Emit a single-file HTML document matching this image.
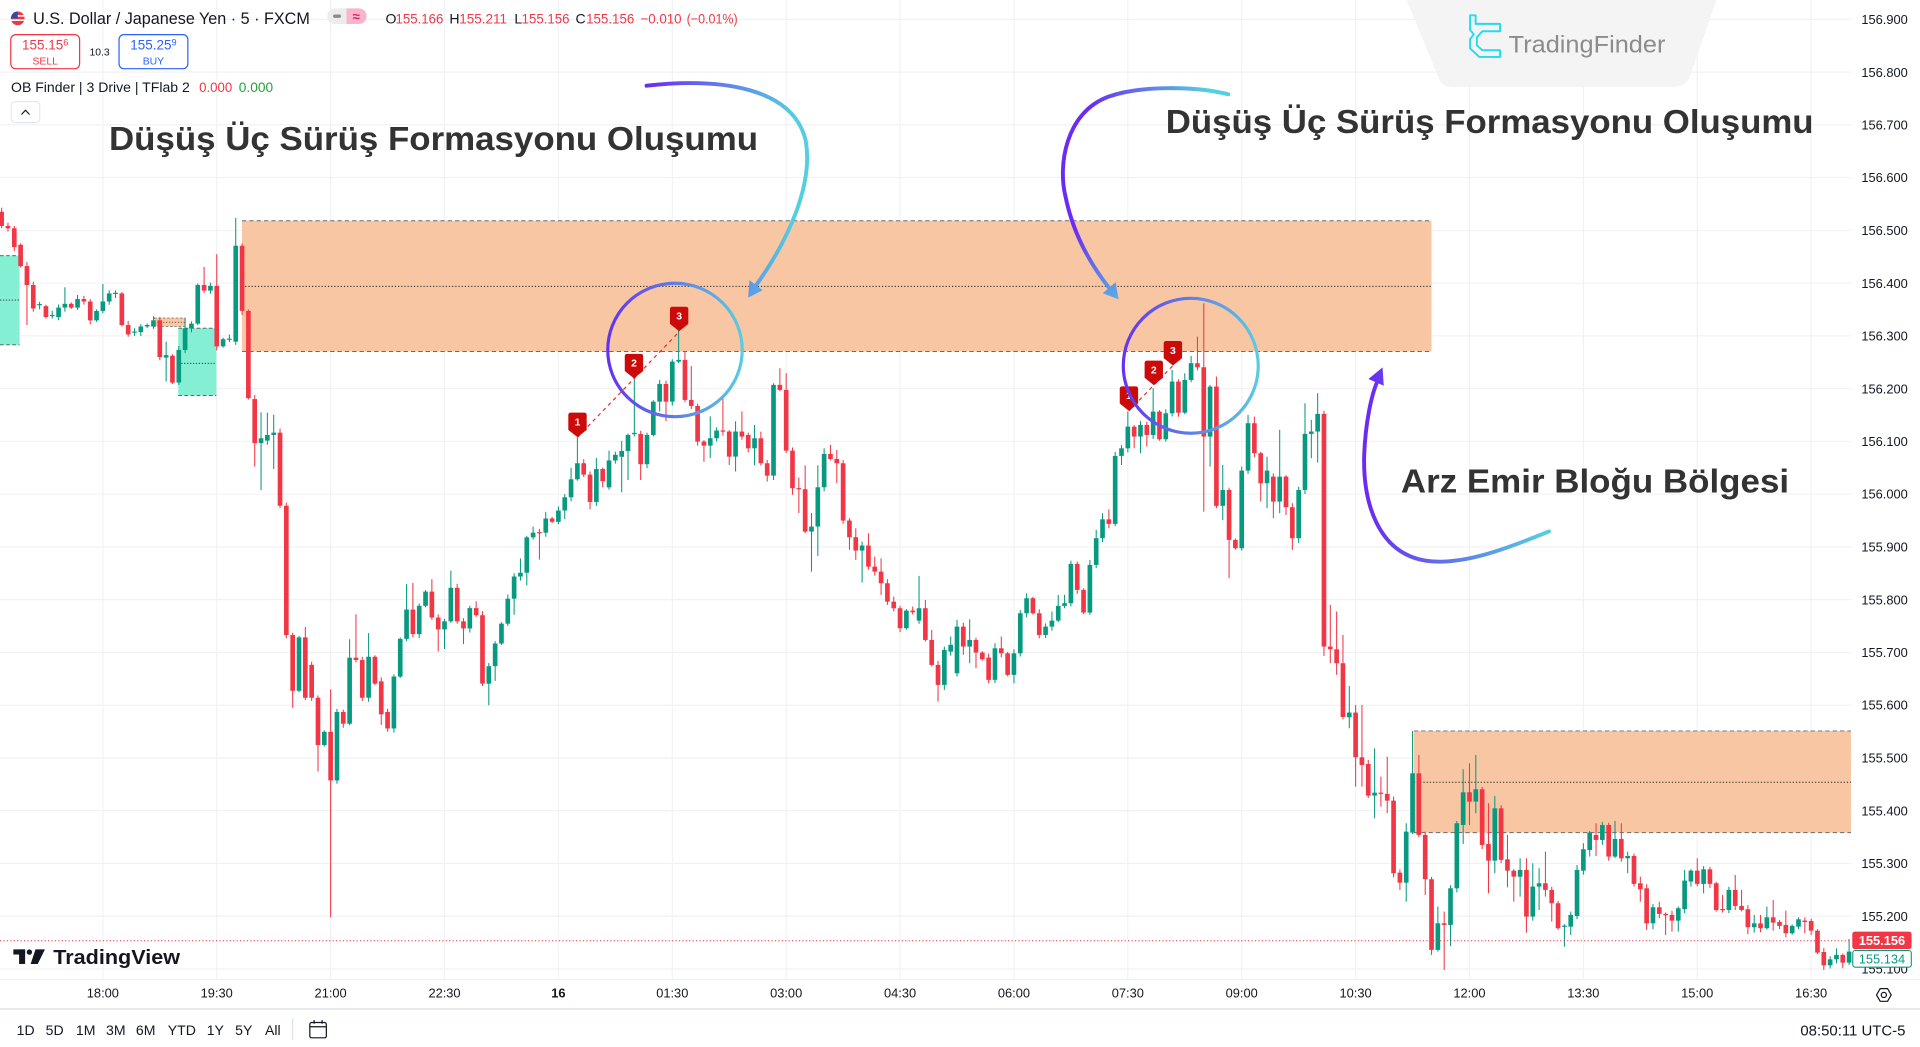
<!DOCTYPE html>
<html><head><meta charset="utf-8">
<style>
html,body{margin:0;padding:0;background:#fff;width:1920px;height:1047px;overflow:hidden}
svg{display:block}
text{font-family:"Liberation Sans",Arial,sans-serif}
</style></head><body>
<svg id="s" width="1920" height="1047" viewBox="0 0 1567.9 855" preserveAspectRatio="none" xmlns="http://www.w3.org/2000/svg">
<defs>
<linearGradient id="ga1" gradientUnits="userSpaceOnUse" x1="528" y1="0" x2="650" y2="0"><stop offset="0" stop-color="#6a2cf2"/><stop offset="1" stop-color="#55cfe0"/></linearGradient>
<radialGradient id="ga2" gradientUnits="userSpaceOnUse" cx="866" cy="135" r="135"><stop offset="0" stop-color="#6a2cf2"/><stop offset="0.4" stop-color="#6a2cf2"/><stop offset="1" stop-color="#55cfe0"/></radialGradient>
<linearGradient id="ga3" gradientUnits="userSpaceOnUse" x1="1118" y1="0" x2="1262" y2="0"><stop offset="0" stop-color="#6a2cf2"/><stop offset="1" stop-color="#55cfe0"/></linearGradient>
<linearGradient id="gc1" gradientUnits="userSpaceOnUse" x1="497" y1="0" x2="606" y2="0"><stop offset="0" stop-color="#6433ee"/><stop offset="1" stop-color="#5ccbe2"/></linearGradient>
<linearGradient id="gc2" gradientUnits="userSpaceOnUse" x1="917" y1="0" x2="1028" y2="0"><stop offset="0" stop-color="#6433ee"/><stop offset="1" stop-color="#5ccbe2"/></linearGradient>
</defs>

<!-- grid -->
<g stroke="#f0f1f4" stroke-width="0.9">
<line x1="0" x2="1512" y1="15.8" y2="15.8"/><line x1="0" x2="1512" y1="58.88" y2="58.88"/><line x1="0" x2="1512" y1="101.96" y2="101.96"/><line x1="0" x2="1512" y1="145.04" y2="145.04"/><line x1="0" x2="1512" y1="188.12" y2="188.12"/><line x1="0" x2="1512" y1="231.2" y2="231.2"/><line x1="0" x2="1512" y1="274.28" y2="274.28"/><line x1="0" x2="1512" y1="317.36" y2="317.36"/><line x1="0" x2="1512" y1="360.44" y2="360.44"/><line x1="0" x2="1512" y1="403.52" y2="403.52"/><line x1="0" x2="1512" y1="446.6" y2="446.6"/><line x1="0" x2="1512" y1="489.68" y2="489.68"/><line x1="0" x2="1512" y1="532.76" y2="532.76"/><line x1="0" x2="1512" y1="575.84" y2="575.84"/><line x1="0" x2="1512" y1="618.92" y2="618.92"/><line x1="0" x2="1512" y1="662" y2="662"/><line x1="0" x2="1512" y1="705.08" y2="705.08"/><line x1="0" x2="1512" y1="748.16" y2="748.16"/><line x1="0" x2="1512" y1="791.24" y2="791.24"/>
<line y1="0" y2="800" x1="84" x2="84"/><line y1="0" y2="800" x1="177" x2="177"/><line y1="0" y2="800" x1="270" x2="270"/><line y1="0" y2="800" x1="363" x2="363"/><line y1="0" y2="800" x1="456" x2="456"/><line y1="0" y2="800" x1="549" x2="549"/><line y1="0" y2="800" x1="642" x2="642"/><line y1="0" y2="800" x1="735" x2="735"/><line y1="0" y2="800" x1="828" x2="828"/><line y1="0" y2="800" x1="921" x2="921"/><line y1="0" y2="800" x1="1014" x2="1014"/><line y1="0" y2="800" x1="1107" x2="1107"/><line y1="0" y2="800" x1="1200" x2="1200"/><line y1="0" y2="800" x1="1293" x2="1293"/><line y1="0" y2="800" x1="1386" x2="1386"/><line y1="0" y2="800" x1="1479" x2="1479"/>
</g>
<line x1="0" x2="1567.9" y1="800" y2="800" stroke="#eceef2" stroke-width="0.8"/>

<!-- TradingFinder watermark -->
<path d="M1148.7,0 L1401.8,0 L1380,62 Q1377,71 1366,71 L1187,71 Q1177,71 1175,64 Z" fill="#f4f4f5"/>
<path d="M1200.5,12.5 L1205,12.5 L1205,19.5 L1225,19.5 L1225,25.5 L1210.5,25.5 L1206,30.5 L1206,37 L1210.5,41 L1225,41 L1225,46.5 L1208,46.5 L1200.5,39.5 L1200.5,32 L1203.5,28 L1200.5,24.5 Z" fill="none" stroke="#22dcec" stroke-width="1.6" stroke-linejoin="round"/>
<text x="1232" y="43" font-size="20" fill="#8c8c8c" textLength="128" lengthAdjust="spacingAndGlyphs">TradingFinder</text>

<!-- zones -->
<rect x="197.6" y="180.3" width="971.4" height="106.7" fill="#f8c6a3"/>
<line x1="197.6" x2="1169" y1="180.3" y2="180.3" stroke="#6b6b6b" stroke-width="0.8" stroke-dasharray="3.5 2.5"/>
<line x1="197.6" x2="1169" y1="287" y2="287" stroke="#6b6b6b" stroke-width="0.8" stroke-dasharray="3.5 2.5"/>
<line x1="197.6" x2="1169" y1="233.9" y2="233.9" stroke="#222" stroke-width="0.8" stroke-dasharray="1 1.6"/>
<rect x="1154.6" y="596.9" width="356.9" height="83" fill="#f8c6a3"/>
<line x1="1154.6" x2="1511.5" y1="596.9" y2="596.9" stroke="#6b6b6b" stroke-width="0.8" stroke-dasharray="3.5 2.5"/>
<line x1="1154.6" x2="1511.5" y1="679.9" y2="679.9" stroke="#6b6b6b" stroke-width="0.8" stroke-dasharray="3.5 2.5"/>
<line x1="1154.6" x2="1511.5" y1="638.8" y2="638.8" stroke="#222" stroke-width="0.8" stroke-dasharray="1 1.6"/>
<rect x="126" y="259.7" width="25" height="6.9" fill="#f8c6a3" stroke="#6b6b6b" stroke-width="0.6" stroke-dasharray="2 1.5"/>
<line x1="126" x2="151" y1="263.1" y2="263.1" stroke="#222" stroke-width="0.6" stroke-dasharray="1 1.4"/>
<rect x="0" y="208.8" width="16" height="72.8" fill="#84efd2"/>
<line x1="0" x2="16" y1="208.8" y2="208.8" stroke="#555" stroke-width="0.7" stroke-dasharray="3 2"/>
<line x1="0" x2="16" y1="281.6" y2="281.6" stroke="#555" stroke-width="0.7" stroke-dasharray="3 2"/>
<line x1="0" x2="16" y1="245" y2="245" stroke="#222" stroke-width="0.7" stroke-dasharray="1 1.4"/>
<rect x="145.6" y="268" width="31.1" height="55" fill="#84efd2"/>
<line x1="145.6" x2="176.7" y1="268" y2="268" stroke="#555" stroke-width="0.7" stroke-dasharray="3 2"/>
<line x1="145.6" x2="176.7" y1="323" y2="323" stroke="#555" stroke-width="0.7" stroke-dasharray="3 2"/>
<line x1="145.6" x2="176.7" y1="296.7" y2="296.7" stroke="#222" stroke-width="0.7" stroke-dasharray="1 1.4"/>

<!-- candles -->
<g id="candles"></g>

<!-- current price line -->
<line x1="0" x2="1512" y1="768.2" y2="768.2" stroke="#F23645" stroke-width="0.8" stroke-dasharray="1 1.8"/>

<!-- 3 drive dashed lines -->
<line x1="471.6" y1="357" x2="554.6" y2="271" stroke="#e0303a" stroke-width="1" stroke-dasharray="3 3"/>
<line x1="921.9" y1="335.5" x2="957.8" y2="298.5" stroke="#e0303a" stroke-width="1" stroke-dasharray="3 3"/>

<!-- markers -->
<g id="markers" fill="#cc0a0a"></g>

<!-- circles -->
<ellipse cx="551.2" cy="285.8" rx="54.9" ry="54.5" fill="none" stroke="url(#gc1)" stroke-width="2.6"/>
<ellipse cx="972.4" cy="298.7" rx="55.1" ry="55.1" fill="none" stroke="url(#gc2)" stroke-width="2.6"/>

<!-- arrows -->
<path d="M528,70 C590,63 648,72 658,115 C664,150 645,195 616,235" fill="none" stroke="url(#ga1)" stroke-width="3.2" stroke-linecap="round"/>
<polygon points="611,243 622.8,237 612,228.8" fill="url(#ga1)"/>
<path d="M1003,77 C975,70 930,70 905,79 C870,92 864,135 870,160 C877,195 895,222 908,238" fill="none" stroke="url(#ga2)" stroke-width="3.2" stroke-linecap="round"/>
<polygon points="913.5,244.5 911,230.5 900.5,239.5" fill="url(#ga2)"/>
<path d="M1265,434 C1230,448 1195,462 1165,458 C1125,452 1113,410 1114,372 C1115,345 1120,322 1125,311" fill="none" stroke="url(#ga3)" stroke-width="3.2" stroke-linecap="round"/>
<polygon points="1129,300 1130,315 1117.5,309.5" fill="url(#ga3)"/>

<!-- annotation texts -->
<text x="89" y="122.5" font-size="27" font-weight="bold" fill="#333" textLength="530" lengthAdjust="spacingAndGlyphs">Düşüş Üç Sürüş Formasyonu Oluşumu</text>
<text x="952" y="108.5" font-size="27" font-weight="bold" fill="#333" textLength="529" lengthAdjust="spacingAndGlyphs">Düşüş Üç Sürüş Formasyonu Oluşumu</text>
<text x="1144" y="402" font-size="27" font-weight="bold" fill="#333" textLength="317" lengthAdjust="spacingAndGlyphs">Arz Emir Bloğu Bölgesi</text>

<!-- header -->
<circle cx="14.5" cy="15" r="5.6" fill="#e8394a"/>
<rect x="8.9" y="12.3" width="11.2" height="1.3" fill="#fff"/>
<rect x="8.9" y="15.8" width="11.2" height="1.3" fill="#fff"/>
<path d="M8.9,15 A5.6,5.6 0 0 1 14.5,9.4 L14.5,15 Z" fill="#2a4fa8"/>
<text x="27" y="19.5" font-size="13.5" fill="#131722" textLength="226" lengthAdjust="spacingAndGlyphs">U.S. Dollar / Japanese Yen · 5 · FXCM</text>
<rect x="267.3" y="6.8" width="32.1" height="12.8" rx="6.4" fill="#ececec"/>
<path d="M283,6.8 L293,6.8 A6.4,6.4 0 0 1 293,19.6 L283,19.6 Z" fill="#f8b6cc"/>
<rect x="272" y="11.8" width="6.5" height="2.8" rx="1.4" fill="#8a8a8a"/>
<text x="291" y="17" font-size="11" font-weight="bold" fill="#e91e63" text-anchor="middle">≈</text>
<g font-size="11.5">
<text x="314.8" y="19" fill="#131722">O</text><text x="323" y="19" fill="#F23645" textLength="39" lengthAdjust="spacingAndGlyphs">155.166</text>
<text x="367" y="19" fill="#131722">H</text><text x="375" y="19" fill="#F23645" textLength="39" lengthAdjust="spacingAndGlyphs">155.211</text>
<text x="420" y="19" fill="#131722">L</text><text x="426" y="19" fill="#F23645" textLength="39" lengthAdjust="spacingAndGlyphs">155.156</text>
<text x="470" y="19" fill="#131722">C</text><text x="478.6" y="19" fill="#F23645" textLength="39.4" lengthAdjust="spacingAndGlyphs">155.156</text>
<text x="523" y="19" fill="#F23645" textLength="33.6" lengthAdjust="spacingAndGlyphs">−0.010</text>
<text x="560.7" y="19" fill="#F23645" textLength="41.7" lengthAdjust="spacingAndGlyphs">(−0.01%)</text>
</g>
<rect x="8.8" y="28.3" width="56.2" height="27.8" rx="4" fill="#fff" stroke="#F23645" stroke-width="1"/>
<text x="36.9" y="40.5" font-size="11" fill="#F23645" text-anchor="middle">155.15<tspan font-size="7.5" dy="-3.5">6</tspan></text>
<text x="36.9" y="52.5" font-size="8.5" fill="#F23645" text-anchor="middle">SELL</text>
<text x="81.3" y="45.5" font-size="8.5" fill="#131722" text-anchor="middle">10.3</text>
<rect x="97.2" y="28.3" width="56.2" height="27.8" rx="4" fill="#fff" stroke="#2962FF" stroke-width="1"/>
<text x="125.3" y="40.5" font-size="11" fill="#2962FF" text-anchor="middle">155.25<tspan font-size="7.5" dy="-3.5">9</tspan></text>
<text x="125.3" y="52.5" font-size="8.5" fill="#2962FF" text-anchor="middle">BUY</text>
<text x="9" y="75.2" font-size="11.5" fill="#131722" textLength="146" lengthAdjust="spacingAndGlyphs">OB Finder | 3 Drive | TFlab 2</text>
<text x="162.6" y="75.2" font-size="11.5" fill="#F23645" textLength="27" lengthAdjust="spacingAndGlyphs">0.000</text>
<text x="195" y="75.2" font-size="11.5" fill="#22a33a" textLength="28" lengthAdjust="spacingAndGlyphs">0.000</text>
<rect x="9.2" y="83" width="23.3" height="17" rx="3" fill="#fff" stroke="#e0e3eb" stroke-width="0.8"/>
<polyline points="17.5,93.5 20.8,90 24.1,93.5" fill="none" stroke="#131722" stroke-width="1"/>

<!-- price axis labels -->
<g font-size="10.5" fill="#131722">
<text x="1520" y="19.6">156.900</text><text x="1520" y="62.7">156.800</text><text x="1520" y="105.8">156.700</text><text x="1520" y="148.8">156.600</text><text x="1520" y="191.9">156.500</text><text x="1520" y="235">156.400</text><text x="1520" y="278.1">156.300</text><text x="1520" y="321.2">156.200</text><text x="1520" y="364.2">156.100</text><text x="1520" y="407.3">156.000</text><text x="1520" y="450.4">155.900</text><text x="1520" y="493.5">155.800</text><text x="1520" y="536.6">155.700</text><text x="1520" y="579.6">155.600</text><text x="1520" y="622.7">155.500</text><text x="1520" y="665.8">155.400</text><text x="1520" y="708.9">155.300</text><text x="1520" y="752">155.200</text><text x="1520" y="795">155.100</text>
</g>
<rect x="1512.6" y="760.8" width="48.4" height="14.2" rx="2" fill="#F23645"/>
<text x="1536.8" y="771.7" font-size="10.5" font-weight="bold" fill="#fff" text-anchor="middle">155.156</text>
<rect x="1513" y="776.2" width="47.8" height="13.6" rx="2" fill="#fff" stroke="#089981" stroke-width="0.9"/>
<text x="1536.8" y="786.8" font-size="10.5" fill="#089981" text-anchor="middle">155.134</text>

<!-- TradingView logo -->
<rect x="10.9" y="775.3" width="9.6" height="4.2" fill="#131722"/>
<rect x="15.6" y="775.3" width="4.9" height="11.9" fill="#131722"/>
<circle cx="24" cy="777.5" r="2.2" fill="#131722"/>
<polygon points="29,775.3 36.7,775.3 30.8,787.2 25,787.2" fill="#131722"/>
<text x="43.5" y="787.2" font-size="16.5" font-weight="bold" fill="#131722" textLength="103.5" lengthAdjust="spacingAndGlyphs">TradingView</text>

<!-- time axis -->
<g font-size="10.5" fill="#131722" text-anchor="middle">
<text x="84" y="814.6">18:00</text><text x="177" y="814.6">19:30</text><text x="270" y="814.6">21:00</text><text x="363" y="814.6">22:30</text><text x="456" y="814.6" font-weight="bold">16</text><text x="549" y="814.6">01:30</text><text x="642" y="814.6">03:00</text><text x="735" y="814.6">04:30</text><text x="828" y="814.6">06:00</text><text x="921" y="814.6">07:30</text><text x="1014" y="814.6">09:00</text><text x="1107" y="814.6">10:30</text><text x="1200" y="814.6">12:00</text><text x="1293" y="814.6">13:30</text><text x="1386" y="814.6">15:00</text><text x="1479" y="814.6">16:30</text>
</g>
<polygon points="1544.4,812.5 1541.4,817.7 1535.4,817.7 1532.4,812.5 1535.4,807.3 1541.4,807.3" fill="none" stroke="#131722" stroke-width="1"/>
<circle cx="1538.4" cy="812.5" r="2.1" fill="none" stroke="#131722" stroke-width="1"/>

<!-- bottom toolbar -->
<rect x="0" y="823.2" width="1567.9" height="1.6" fill="#e6e8ee"/>
<g font-size="11.5" fill="#131722">
<text x="13.6" y="845.3">1D</text><text x="37.3" y="845.3">5D</text><text x="62" y="845.3">1M</text><text x="86.6" y="845.3">3M</text><text x="111" y="845.3">6M</text><text x="137" y="845.3">YTD</text><text x="168.8" y="845.3">1Y</text><text x="192" y="845.3">5Y</text><text x="216.4" y="845.3">All</text>
</g>
<line x1="239" x2="239" y1="831.6" y2="849.3" stroke="#e0e3eb" stroke-width="1"/>
<rect x="253" y="835" width="13.5" height="12.5" rx="1.5" fill="none" stroke="#131722" stroke-width="1"/>
<line x1="253" x2="266.5" y1="838.5" y2="838.5" stroke="#131722" stroke-width="1"/>
<line x1="256.5" x2="256.5" y1="833" y2="836" stroke="#131722" stroke-width="1"/>
<line x1="263" x2="263" y1="833" y2="836" stroke="#131722" stroke-width="1"/>
<text x="1556" y="845.5" font-size="12.2" fill="#131722" text-anchor="end">08:50:11 UTC-5</text>
</svg>

<script>
(function(){
var NS="http://www.w3.org/2000/svg";
function el(tag,attrs,parent){var e=document.createElementNS(NS,tag);for(var a in attrs){e.setAttribute(a,attrs[a]);}parent.appendChild(e);return e;}
var D=[
[172.9,184.5,0],[184.5,186.5,0],[186.4,201.8,0],[199.9,217.3,0],[217.3,232.7,0,0,265.4],[232.7,251.9,0],[248.3,249.3,1],[250,258.9,0],[257.2,258.2,1],[251.2,258.9,1],
[248.1,251.2,1,234.6],[248.1,251.2,0],[244.2,251.2,1],[244.2,246.2,0],[246.2,261.6,0],[253.9,261.6,1],[246.2,253.9,1,231.9],[239.6,246.2,1],[239.1,240.1,1],[239.6,265.4,0],
[265.4,273.1,0],[270.7,271.7,1],[266.6,271.2,1],[265.4,266.6,1],[261.6,266.6,1],[261.6,291.6,0],[290,292,1,279,311.6],[290.5,312.4,0],[285.8,312.4,1],[268.1,285.8,1,259.6],
[264.3,268.1,1],[232.7,264.3,1],[232.7,237.3,0,218],[233.4,237.3,1],[233.4,282.8,0,207.6],[277,282.8,1],[276.5,277.5,1],[200.7,279,1,177.9],[200.7,253.9,0],[253.9,325.1,0],
[325.9,361.8,0,0,381],[357.9,361.8,1,336.7,400.3],[355.2,359.8,1,337],[353.3,355.2,1,338.6,383],[353.3,413,0],[413,518.6,0],[518.6,564.1,0,0,578],[520.5,564.1,1],[520.5,569.8,0,512],[542.9,569.8,0],
[569.8,608.4,0,0,630],[597.6,608.4,1],[597.6,637.3,0,563,749],[581.4,637.3,1,0,640],[581.4,591,0],[537.1,591,1,522],[537.1,539,0,501.6],[539,569.8,0],[536.3,569.8,1,517],[536.3,558.3,0],
[556.4,583.3,0,0,592],[581.4,594.9,0],[552.5,594.9,1],[521.7,552.5,1],[497.8,521.7,1,477],[497.8,517.8,0,476],[494.7,517.8,1],[483.1,494.7,1],[483.1,504.3,0,473],[504.3,514,0,0,532],
[507.4,514,1,0,530],[480,507.4,1,466],[480,507.4,0],[507.4,513.2,0,0,526],[496.6,513.2,1],[496.6,502.4,0,491],[502.4,558.3,0],[544,558.3,1,0,576],[525.5,544,1,0,556],[509.3,525.5,1],
[488.9,509.3,1],[470.8,488.9,1,0,502],[467.7,470.8,1,456],[438.8,467.7,1,0,478],[435,438.8,1,430],[434.5,435.5,0,0,457],[423.4,435,1,418],[423.4,426.1,0],[416.9,426.1,1],[406.1,416.9,1,0,424],
[391.4,406.1,1,382],[378.3,391.4,1,357],[378.3,387.6,0],[387.6,409.9,0,0,416],[383,409.9,1,374],[383,393,0,0,398],[376,398,1,368],[371.4,376,1],[368.3,373,1,360,402],[355.2,368.3,1,0,392],
[353.5,354.5,1,309],[354.4,379.1,0,0,392],[355.2,379.1,1],[328,355.2,1],[313.5,328,1,0,336],[313.5,328,0,0,344],[295.3,328,1],[293.9,295.3,1,269.4],[293.9,326.6,0,287],[326.6,331.5,0,299],
[331.5,360.6,0],[360.6,363.9,0,0,377],[357.9,363.9,1,340,374],[351.6,357.9,1],[351.6,352.4,0,325.2],[352.4,372.9,0,0,379.7],[352.4,372.9,1,344,385],[352.4,356.5,0,336],[355.2,366.1,0],[357.9,366.1,1,347,380],
[357.9,378.3,0,352.5],[378.3,388.4,0,0,393.3],[314.3,388.4,1,313,392],[314.3,318.4,0,300.7],[318.4,368,0,304.8],[368,398.7,0,0,404],[398.7,399.5,0,390,419],[399.5,434.1,0,380,435.5],[430,434.1,1,419,466.8],[397.9,430,1,380,454],
[370.7,397.9,1,366.1],[370.7,374.8,0,363.3],[374.8,378.3,0,367.4,394.6],[378.3,425.1,0],[425.1,438.7,0,0,449],[438.7,449.6,0,431.4,457.2],[445.5,449.6,1,442.3,475.7],[445.5,462.7,0,435.5],[462.7,466.8,0,454.5],[466.8,476.3,0,455.9,485.8],
[476.3,491.3,0,0,494],[491.3,496.7,0,487.2],[496.7,513,0],[498.6,513,1],[498.6,500,0],[496.7,506.8,1,470.3],[496.7,522.6,0,489.9,523.9],[522.6,543,0,514.4],[543,559.3,0,0,572.9],[530.7,559.3,1,0,563.4],
[526.6,532.1,1,519.8],[511.7,549.8,1,506.2,552.5],[511.7,528,0,0,534.8],[522.6,528,1,505.7,541.6],[522.6,532.9,0,0,545.7],[532.9,538.3,0],[537,555.2,0,0,558],[529.4,555.2,1,525.3],[529.4,533.5,0,519.8],[533.5,551.1,0],
[533.5,551.1,1,0,558],[500.8,533.5,1],[488.5,500.8,1,484.5],[488.5,500.8,0],[500.8,518.5,0,0,521.2],[511.7,518.5,1],[506.8,511.7,1,499.4],[494.8,506.8,1,485.8],[492.6,494.8,1,485.8],[460.5,492.6,1],
[460.5,481.7,0,458.6],[481.7,500.2,0],[461.3,500.2,1,457.2],[439.5,461.3,1,432.7],[424.1,439.5,1,419.1],[424.1,427.8,0,415.9,431.4],[372.3,427.8,1],[366.1,372.3,1,0,379.7],[348.4,366.1,1,336],[348.4,356.5,0,0,366.1],
[347,356.5,1,0,370.1],[347,355.2,0,0,364.7],[336.1,355.2,1,317],[336.1,358.7,0],[337.5,358.7,1],[311.6,337.5,1,302],[311.6,337,0],[310.3,337,1,304.8],[296.6,310.3,1,290.7],[296.6,299.9,0,274.9],
[299.9,356.5,0,247.7,417.8],[315.7,356.5,1,0,381],[315.7,413.1,0,307.5],[400.1,413.1,1,379.7,424.6],[400.1,440.9,0,0,472.2],[440.9,447.7,0],[384.3,447.7,1],[345.6,384.3,1,338.8],[345.6,370.1,0,340.2],[370.1,394.6,0,0,409.6],
[384.3,394.6,1,372.9,415],[389.2,409.6,0,0,423.2],[389.2,409.6,1,351,419.1],[389.2,414.2,0,0,420.5],[414.2,439.5,0,0,449.1],[400.1,439.5,1,0,443.6],[354.3,400.1,1,329.3],[352.4,354.3,1,342.9,374.2],[338,352.4,1,321.1,377.8],[338,528,0,0,535.6],
[528,530.2,0,494,541.6],[530.2,541.6,0,499.4,551.1],[541.6,585.5,0,518.5],[581.9,585.7,1,560.2,594.7],[581.9,618.4,0,575.7,642.4],[618.4,624.7,0,575.7,642.4],[623.9,649.7,0],[647.3,649.7,1,611.1,668.2],[647.3,648.3,0,634.2,658.7],[648.3,653.8,0,617.9,664.1],
[653.8,713.1,0,0,716.4],[712.6,720.8,0,0,726.7],[679.1,720.8,1,672.3,736.3],[631.5,679.9,1,596.9],[631.5,681.8,0,616.5],[681.8,718,0,0,730.8],[718,775.7,0,0,779.8],[754,775.7,1,740.3,777],[754,755.3,0,744.4,792.1],[725.4,755.3,1,0,772.5],
[672.3,725.4,1],[647,673.7,1,628.2,689.2],[647,654.6,0,623.3,673.7],[644.5,654.6,1,616.5,664.1],[644.5,690,0],[689.2,702.8,0,656,729.5],[660.1,702.8,1,650,713.1],[660.1,702.2,0],[701.7,711,0,681.8,724.6],[711,715.9,0,0,736.3],
[710.4,715.9,1,700.9,732.2],[710.4,748.5,0,700.9,761.6],[724,748.5,1,705],[721.3,724,1,709,743.1],[721.3,726.7,0,695.4,732.2],[726.7,737.6,0,0,752.6],[737.6,758,0,0,759.4],[756.1,756.7,1,0,773],[747.1,756.7,1,744.4,763.5],[710.4,748,1,706.3],
[693.5,711,1,688.6],[679.9,694.1,1,0,699.5],[681.8,685.9,0,672.3,699],[673.7,685.9,1,0,690],[673.7,699.5,0],[685.1,699.5,1,670.4],[685.1,700.9,0,672.3,703.6],[699,700.9,1,695.4,713.1],[699,721.8,0,0,724],[721.3,726.2,0,715.9,736.3],
[725.4,754,0,0,759.4],[740.9,754,1,0,758.9],[740.9,746.3,0,736.3,749.9],[746.3,747.4,0,0,763.5],[747.1,751.8,0,0,760.8],[741.7,751.8,1,740.3,760.8],[719.1,742.5,1,710.4],[711,719.9,1,0,724],[711,721.8,0,700.9],[709.9,721.8,1,0,729.5],
[709.9,721.8,0],[721.3,743.1,0],[742.5,743.1,0,730.8],[726.7,743.1,1],[726.7,739.8,0,714.5],[739.8,743.1,0,726.7],[742.5,757.2,0,0,762.9],[754,757.2,1,747.1,761.6],[754,758,0,747.1],[749.1,758,1,740.3],
[749.1,753.4,0,734.9,760],[752.9,756.1,0,751.2],[755.3,762.1,0,743.6],[756.1,762.1,1],[750.7,756.7,1,749.1],[751.8,752.9,0,749.1,762.1],[752.1,760,0,0,763.5],[760,777.9,0],[777.4,788.3,0,0,792.1],[783.4,788.3,1],
[779.8,783.4,1,774.4],[779.8,786.1,0,0,790.7],[777.1,786.1,1,766.8]
];
var g=document.getElementById('candles');
for(var i=0;i<D.length;i++){
  var d=D[i],k=i-16,x=84+5.1667*k;
  var t=d[0],b=d[1],c=d[2],wt=d[3]||0,wb=d[4]||0;
  if(b-t<0.9){var m=(t+b)/2;t=m-0.5;b=m+0.5;}
  var e1=1.2+((((k*7+3)%4)+4)%4)*0.7,e2=1.2+((((k*5+1)%4)+4)%4)*0.7;
  if(!wt)wt=t-e1; if(!wb)wb=b+e2;
  var col=c?'#089981':'#F23645';
  el('rect',{x:(x-0.42).toFixed(2),y:wt.toFixed(2),width:'0.85',height:(wb-wt).toFixed(2),fill:col},g);
  el('rect',{x:(x-1.9).toFixed(2),y:t.toFixed(2),width:'3.8',height:(b-t).toFixed(2),fill:col},g);
}
var M=[[471.6,337,'1'],[517.7,289,'2'],[554.6,250.5,'3'],[921.9,315.5,'1'],[942.2,294.5,'2'],[957.8,278.5,'3']];
var mg=document.getElementById('markers');
for(var j=0;j<M.length;j++){
  var cx=M[j][0],y0=M[j][1];
  var p='M'+(cx-7.5)+','+(y0+2)+' Q'+(cx-7.5)+','+y0+' '+(cx-5.5)+','+y0+' L'+(cx+5.5)+','+y0+' Q'+(cx+7.5)+','+y0+' '+(cx+7.5)+','+(y0+2)+' L'+(cx+7.5)+','+(y0+14)+' L'+cx+','+(y0+20)+' L'+(cx-7.5)+','+(y0+14)+' Z';
  el('path',{d:p},mg);
  var tx=el('text',{x:cx,y:(y0+10.5),'font-size':'8.5','font-weight':'bold',fill:'#fff','text-anchor':'middle'},mg);
  tx.textContent=M[j][2];
}
})();
</script>
</body></html>
